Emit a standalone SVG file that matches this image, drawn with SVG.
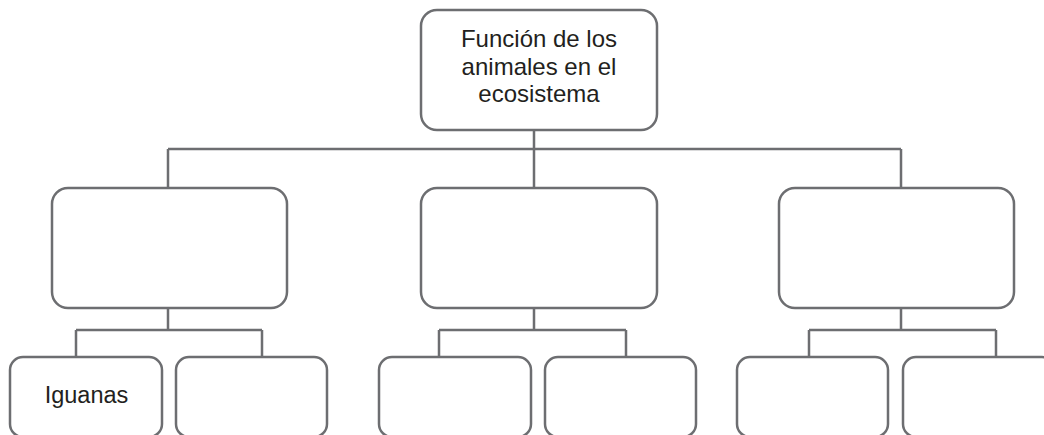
<svg xmlns="http://www.w3.org/2000/svg" width="1044" height="435" viewBox="0 0 1044 435">
<style>
.box{fill:#fff;stroke:#6d6e71;stroke-width:2.5}
.con{fill:none;stroke:#6d6e71;stroke-width:2.5}
.t{font-family:"Liberation Sans",Arial,sans-serif;font-size:24px;fill:#231f20;text-anchor:middle}
</style>
<rect width="1044" height="435" fill="#fff"/>
<g id="connectors">
<path class="con" d="M534 130V149M168 149H901M168 149V188M534 149V188M901 149V188"/>
<path class="con" d="M168 308V330M76 330H262M76 330V357M262 330V357"/>
<path class="con" d="M534 308V330M439 330H626M439 330V357M626 330V357"/>
<path class="con" d="M901 308V330M809 330H996M809 330V357M996 330V357"/>
</g>
<g id="root">
<rect class="box" x="421" y="10" width="236" height="120" rx="16"/>
<text class="t" x="539" y="47">Función de los</text>
<text class="t" x="539" y="74.5">animales en el</text>
<text class="t" x="539" y="102">ecosistema</text>
</g>
<g id="n1"><rect class="box" x="52" y="188" width="235" height="120" rx="16"/></g>
<g id="n2"><rect class="box" x="421" y="188" width="236" height="120" rx="16"/></g>
<g id="n3"><rect class="box" x="779" y="188" width="235" height="120" rx="16"/></g>
<g id="n1a"><rect class="box" x="10" y="357" width="152" height="80" rx="13"/>
<text class="t" x="86.5" y="402.5" style="font-size:23.5px">Iguanas</text></g>
<g id="n1b"><rect class="box" x="176" y="357" width="151" height="80" rx="13"/></g>
<g id="n2a"><rect class="box" x="379" y="357" width="152" height="80" rx="13"/></g>
<g id="n2b"><rect class="box" x="545" y="357" width="151" height="80" rx="13"/></g>
<g id="n3a"><rect class="box" x="737" y="357" width="151" height="80" rx="13"/></g>
<g id="n3b"><rect class="box" x="903" y="357" width="152" height="80" rx="13"/></g>
</svg>
